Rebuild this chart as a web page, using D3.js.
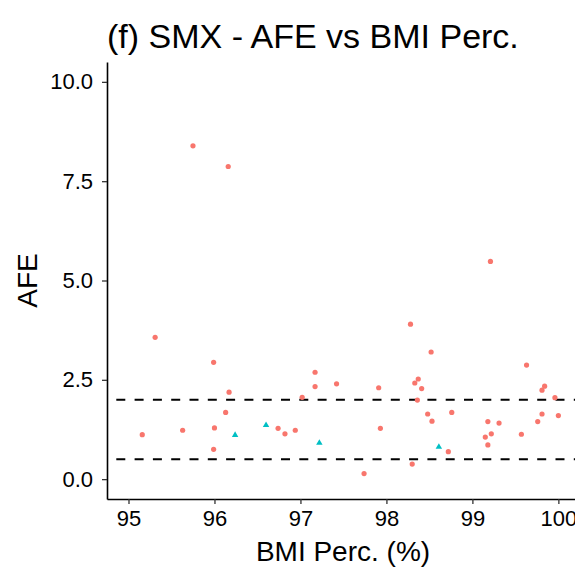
<!DOCTYPE html>
<html>
<head>
<meta charset="utf-8">
<script src="https://cdn.jsdelivr.net/npm/d3@7"></script>
<style>
  body { margin: 0; background: #fff; }
  text { font-family: "Liberation Sans", Arial, sans-serif; }
</style>
</head>
<body>
<div id="chartContainer"></div>
<script>
// data
// group 1 (red circles)
const circleBmi = [95.75, 96.16, 95.31, 95.99, 96.17, 96.13, 95.16, 95.63, 96.00, 95.99,
                   98.28, 97.17, 97.17, 97.42, 97.91, 98.37, 98.33, 97.02, 98.36, 96.74,
                   96.82, 96.94, 97.93, 97.74, 98.30, 99.21, 98.52, 98.41, 98.48, 98.76,
                   98.53, 98.72, 99.18, 99.31, 99.15, 99.22, 99.18, 99.63, 99.84, 99.81,
                   99.96, 99.81, 100.00, 99.76, 99.57];
const circleAfe = [8.39, 7.87, 3.57, 2.94, 2.19, 1.68, 1.12, 1.23, 1.29, 0.75,
                   3.90, 2.69, 2.33, 2.40, 2.30, 2.52, 2.42, 2.06, 1.99, 1.28,
                   1.14, 1.23, 1.28, 0.14, 0.38, 5.48, 3.20, 2.28, 1.64, 1.68,
                   1.46, 0.69, 1.45, 1.41, 1.06, 1.14, 0.86, 2.87, 2.34, 2.24,
                   2.05, 1.64, 1.60, 1.45, 1.13];
// group 2 (cyan triangles)
const triBmi = [96.24, 96.60, 97.22, 98.61];
const triAfe = [1.11, 1.36, 0.91, 0.81];

// reference lines and ticks
const refLines = [0.5, 2.0];
const xTicks = [95, 96, 97, 98, 99, 100];
const yTicks = [0, 2.5, 5, 7.5, 10];

const TITLE = "(f) SMX - AFE vs BMI Perc.";
const X_TITLE = "BMI Perc. (%)";
const Y_TITLE = "AFE";

// chart properties
let BOX_WIDTH = 575;
let BOX_HEIGHT = 571;
let PANEL_LEFT = 107;
let PANEL_RIGHT = 579;
let PANEL_TOP = 62;
let PANEL_BOTTOM = 499;

const RED = "#F8766D";
const CYAN = "#00BFC4";

const svg = d3.select("#chartContainer")
    .append("svg")
    .attr("width", BOX_WIDTH)
    .attr("height", BOX_HEIGHT);

const xScale = d3.scaleLinear()
    .domain([94.75, 100.24])
    .range([PANEL_LEFT, PANEL_RIGHT]);

const yScale = d3.scaleLinear()
    .domain([-0.5, 10.5])
    .range([PANEL_BOTTOM, PANEL_TOP]);

// dashed reference lines
svg.selectAll(".ref_line")
    .data(refLines)
    .enter()
    .append("line")
    .attr("class", "ref_line")
    .attr("x1", PANEL_LEFT)
    .attr("x2", PANEL_RIGHT)
    .attr("y1", d => yScale(d))
    .attr("y2", d => yScale(d))
    .attr("stroke", "black")
    .attr("stroke-width", 2)
    .attr("stroke-dasharray", "9,9.3")
    .attr("stroke-dashoffset", 9);

// points
const circleData = circleBmi.map((x, i) => ({ x: x, y: circleAfe[i] }));
const triData = triBmi.map((x, i) => ({ x: x, y: triAfe[i] }));

svg.selectAll(".circle_pt")
    .data(circleData)
    .enter()
    .append("circle")
    .attr("class", "circle_pt")
    .attr("cx", d => xScale(d.x))
    .attr("cy", d => yScale(d.y))
    .attr("r", 2.6)
    .attr("fill", RED);

const triangle = d3.symbol().type(d3.symbolTriangle).size(18);

svg.selectAll(".tri_pt")
    .data(triData)
    .enter()
    .append("path")
    .attr("class", "tri_pt")
    .attr("transform", d => `translate(${xScale(d.x)}, ${yScale(d.y)})`)
    .attr("d", triangle)
    .attr("fill", CYAN);

// axes
const xAxis = d3.axisBottom(xScale)
    .tickValues(xTicks)
    .tickFormat(d3.format("d"))
    .tickSizeInner(5)
    .tickSizeOuter(0)
    .tickPadding(6);

const yAxis = d3.axisLeft(yScale)
    .tickValues(yTicks)
    .tickFormat(d3.format(".1f"))
    .tickSizeInner(5)
    .tickSizeOuter(0)
    .tickPadding(9);

const gx = svg.append("g")
    .attr("transform", `translate(0, ${PANEL_BOTTOM})`)
    .call(xAxis);

const gy = svg.append("g")
    .attr("transform", `translate(${PANEL_LEFT}, 0)`)
    .call(yAxis);

[gx, gy].forEach(g => {
    g.select(".domain")
        .attr("stroke", "black")
        .attr("stroke-width", 1.6);
    g.selectAll(".tick line")
        .attr("stroke", "#333333")
        .attr("stroke-width", 1.3);
    g.selectAll(".tick text")
        .attr("fill", "black")
        .style("font-family", "'Liberation Sans', Arial, sans-serif")
        .style("font-size", "22px");
});

// titles
svg.append("text")
    .attr("x", PANEL_LEFT)
    .attr("y", 48)
    .style("font-size", "34px")
    .attr("fill", "black")
    .text(TITLE);

svg.append("text")
    .attr("x", (PANEL_LEFT + PANEL_RIGHT) / 2)
    .attr("y", 561)
    .attr("text-anchor", "middle")
    .style("font-size", "28px")
    .attr("fill", "black")
    .text(X_TITLE);

svg.append("text")
    .attr("transform", `translate(36.5, ${(PANEL_TOP + PANEL_BOTTOM) / 2}) rotate(-90)`)
    .attr("text-anchor", "middle")
    .style("font-size", "28px")
    .attr("fill", "black")
    .text(Y_TITLE);
</script>
</body>
</html>
